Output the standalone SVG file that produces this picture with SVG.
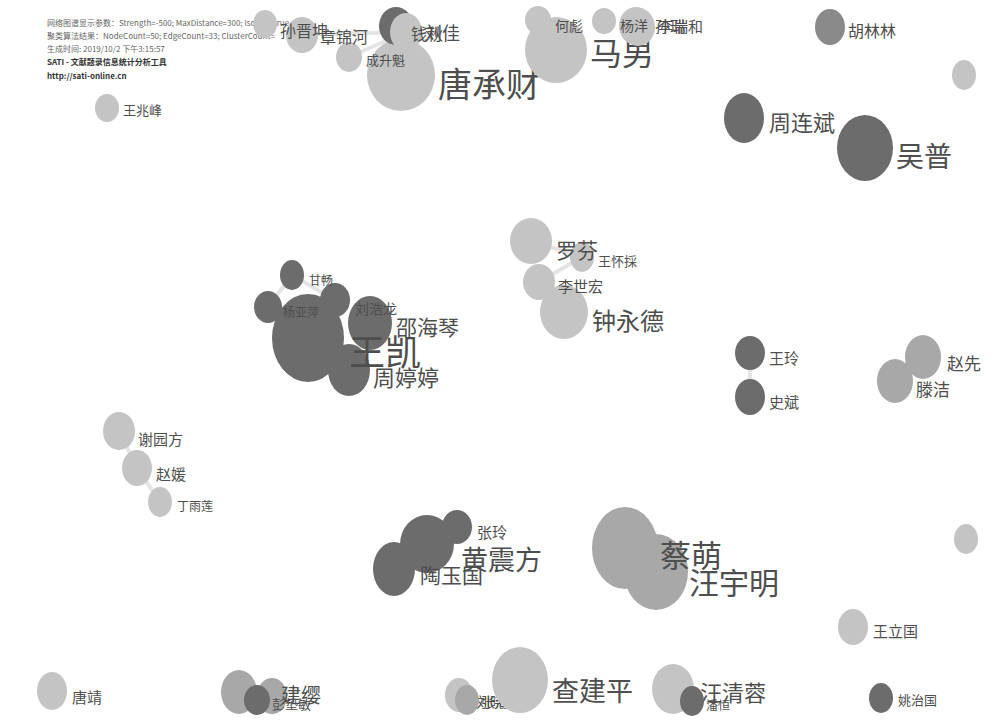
<svg xmlns="http://www.w3.org/2000/svg" width="1001" height="720" viewBox="0 0 1001 720">
<style>
text{font-family:"Noto Sans CJK SC","Liberation Sans",sans-serif;fill:#4e4e4e}
.h{font-size:8px;fill:#666}
.hb{font-size:8px;font-weight:bold;fill:#333}
.l{fill:#c4c4c4}
.m{fill:#a8a8a8}
.g{fill:#8a8a8a}
.d{fill:#6c6c6c}
.e{stroke:#e4e4e4;stroke-width:4;fill:none}
</style>
<rect width="1001" height="720" fill="#ffffff"/>
<g id="header">
<text class="h" x="47" y="26">网络图谱显示参数：Strength=-500; MaxDistance=300; Isolate=true</text>
<text class="h" x="47" y="39">聚类算法结果：NodeCount=50; EdgeCount=33; ClusterCount=</text>
<text class="h" x="47" y="52">生成时间: 2019/10/2 下午3:15:57</text>
<text class="hb" x="47" y="65">SATI - 文献题录信息统计分析工具</text>
<text class="hb" x="47" y="79">http://sati-online.cn</text>
</g>
<g id="edges">
<line class="e" x1="302" y1="35" x2="406" y2="32"/>
<line class="e" x1="349" y1="57" x2="406" y2="32"/>
<line class="e" x1="292" y1="275" x2="268" y2="307"/>
<line class="e" x1="292" y1="275" x2="335" y2="300"/>
<line class="e" x1="531" y1="241" x2="582" y2="257"/>
<line class="e" x1="539" y1="282" x2="582" y2="257"/>
<line class="e" x1="119" y1="431" x2="137" y2="468"/>
<line class="e" x1="137" y1="468" x2="160" y2="502"/>
<line class="e" x1="750" y1="353" x2="750" y2="397"/>
<line class="e" x1="923" y1="357" x2="895" y2="381"/>
</g>
<g id="nodes">
<g id="n-tangchengcai"><ellipse class="l" cx="401" cy="75" rx="34" ry="36"/><text x="438" y="97" font-size="34">唐承财</text></g>
<g id="n-chengshengkui"><ellipse class="l" cx="349" cy="57" rx="13" ry="15"/><text x="366" y="65" font-size="13">成升魁</text></g>
<g id="n-zhangjinhe"><ellipse class="l" cx="302" cy="35" rx="16" ry="18"/><text x="320" y="43" font-size="16">章锦河</text></g>
<g id="n-sunjinkun"><ellipse class="l" cx="265" cy="24" rx="12" ry="14"/><text x="280" y="37" font-size="16">孙晋坤</text></g>
<g id="n-liujia"><ellipse class="d" cx="396" cy="26" rx="17" ry="19"/><text x="424" y="40" font-size="18">刘佳</text></g>
<g id="n-qianqiu"><ellipse class="l" cx="406" cy="32" rx="16" ry="19"/><text x="411" y="40" font-size="16">钱秋</text></g>
<g id="n-manan"><ellipse class="l" cx="556" cy="50" rx="31" ry="33"/><text x="590" y="65" font-size="32">马男</text></g>
<g id="n-hebiao"><ellipse class="l" cx="538" cy="20" rx="13" ry="14"/><text x="555" y="31" font-size="14">何彪</text></g>
<g id="n-sunrui"><ellipse class="l" cx="636" cy="26" rx="17" ry="19"/><text x="655" y="32" font-size="15">孙瑞</text></g>
<g id="n-liruihe"><ellipse class="l" cx="638" cy="27" rx="17" ry="19"/><text x="658" y="32" font-size="15">李瑞和</text></g>
<g id="n-yangyang"><ellipse class="l" cx="604" cy="21" rx="12" ry="13"/><text x="620" y="31" font-size="14">杨洋</text></g>
<g id="n-hulinlin"><ellipse class="g" cx="830" cy="27" rx="15" ry="18"/><text x="848" y="37" font-size="16">胡林林</text></g>
<g id="n-r1"><ellipse class="l" cx="964" cy="75" rx="12" ry="15"/></g>
<g id="n-zhoulianbin"><ellipse class="d" cx="744" cy="118" rx="20" ry="25"/><text x="769" y="131" font-size="22">周连斌</text></g>
<g id="n-wupu"><ellipse class="d" cx="865" cy="148" rx="28" ry="33"/><text x="896" y="167" font-size="28">吴普</text></g>
<g id="n-wangzhaofeng"><ellipse class="l" cx="107" cy="108" rx="12" ry="14"/><text x="123" y="115" font-size="13">王兆峰</text></g>
<g id="n-zhongyongde"><ellipse class="l" cx="564" cy="312" rx="24" ry="27"/><text x="592" y="330" font-size="24">钟永德</text></g>
<g id="n-wanghuaicai"><ellipse class="l" cx="582" cy="257" rx="12" ry="15"/><text x="598" y="266" font-size="13">王怀採</text></g>
<g id="n-lishihong"><ellipse class="l" cx="539" cy="282" rx="16" ry="18"/><text x="558" y="292" font-size="15">李世宏</text></g>
<g id="n-luofen"><ellipse class="l" cx="531" cy="241" rx="21" ry="23"/><text x="556" y="258" font-size="21">罗芬</text></g>
<g id="n-zhoutingting"><ellipse class="d" cx="349" cy="370" rx="21" ry="26"/><text x="373" y="386" font-size="22">周婷婷</text></g>
<g id="n-shaohaiqin"><ellipse class="d" cx="370" cy="323" rx="22" ry="27"/><text x="396" y="335" font-size="21">邵海琴</text></g>
<g id="n-wangkai"><ellipse class="d" cx="308" cy="338" rx="36" ry="44"/><text x="349" y="366" font-size="36">王凯</text></g>
<g id="n-liuhaolong"><ellipse class="d" cx="335" cy="300" rx="15" ry="17"/><text x="355" y="314" font-size="14">刘浩龙</text></g>
<g id="n-yangyaping"><ellipse class="d" cx="268" cy="307" rx="14" ry="16"/><text x="283" y="317" font-size="12">杨亚萍</text></g>
<g id="n-ganchang"><ellipse class="d" cx="292" cy="275" rx="12" ry="15"/><text x="309" y="285" font-size="12">甘畅</text></g>
<g id="n-xieyuanfang"><ellipse class="l" cx="119" cy="431" rx="16" ry="19"/><text x="138" y="445" font-size="15">谢园方</text></g>
<g id="n-zhaoyuan"><ellipse class="l" cx="137" cy="468" rx="15" ry="18"/><text x="156" y="480" font-size="15">赵媛</text></g>
<g id="n-dingyulian"><ellipse class="l" cx="160" cy="502" rx="12" ry="15"/><text x="177" y="511" font-size="12">丁雨莲</text></g>
<g id="n-wangling"><ellipse class="d" cx="750" cy="353" rx="15" ry="17"/><text x="769" y="364" font-size="15">王玲</text></g>
<g id="n-shibin"><ellipse class="d" cx="750" cy="397" rx="15" ry="18"/><text x="769" y="408" font-size="15">史斌</text></g>
<g id="n-zhaoxian"><ellipse class="m" cx="923" cy="357" rx="18" ry="22"/><text x="947" y="370" font-size="17">赵先</text></g>
<g id="n-tengjie"><ellipse class="m" cx="895" cy="381" rx="18" ry="22"/><text x="916" y="396" font-size="17">滕洁</text></g>
<g id="n-r2"><ellipse class="l" cx="966" cy="539" rx="12" ry="15"/></g>
<g id="n-zhangling"><ellipse class="d" cx="457" cy="527" rx="15" ry="17"/><text x="477" y="538" font-size="15">张玲</text></g>
<g id="n-huangzhenfang"><ellipse class="d" cx="427" cy="544" rx="27" ry="29"/><text x="461" y="570" font-size="27">黄震方</text></g>
<g id="n-taoyuguo"><ellipse class="d" cx="394" cy="569" rx="21" ry="27"/><text x="420" y="583" font-size="21">陶玉国</text></g>
<g id="n-wangyuming"><ellipse class="m" cx="656" cy="572" rx="32" ry="38"/><text x="689" y="594" font-size="30">汪宇明</text></g>
<g id="n-caimeng"><ellipse class="m" cx="625" cy="548" rx="33" ry="41"/><text x="660" y="567" font-size="31">蔡萌</text></g>
<g id="n-wangliguo"><ellipse class="l" cx="853" cy="627" rx="15" ry="18"/><text x="873" y="637" font-size="15">王立国</text></g>
<g id="n-tangjing"><ellipse class="l" cx="52" cy="691" rx="15" ry="19"/><text x="72" y="703" font-size="15">唐靖</text></g>
<g id="n-a1"><ellipse class="m" cx="239" cy="692" rx="18" ry="22"/></g>
<g id="n-a2"><ellipse class="m" cx="272" cy="696" rx="15" ry="18"/><text x="281" y="703" font-size="20">建缨</text></g>
<g id="n-a3"><ellipse class="d" cx="257" cy="700" rx="13" ry="15"/><text x="272" y="709" font-size="13">彭垫敏</text></g>
<g id="n-liuxiao"><ellipse class="l" cx="459" cy="695" rx="14" ry="17"/><text x="476" y="707" font-size="14">刘晓</text></g>
<g id="n-zhanghai"><ellipse class="m" cx="467" cy="700" rx="12" ry="15"/><text x="481" y="707" font-size="14">张海</text></g>
<g id="n-zhajianping"><ellipse class="l" cx="520" cy="680" rx="28" ry="33"/><text x="552" y="701" font-size="27">查建平</text></g>
<g id="n-wangqingrong"><ellipse class="l" cx="673" cy="689" rx="21" ry="25"/><text x="700" y="701" font-size="22">汪清蓉</text></g>
<g id="n-panheng"><ellipse class="d" cx="692" cy="701" rx="12" ry="15"/><text x="706" y="710" font-size="12">潘恒</text></g>
<g id="n-yaozhiguo"><ellipse class="d" cx="881" cy="698" rx="12" ry="15"/><text x="898" y="705" font-size="13">姚治国</text></g>
</g>
</svg>
